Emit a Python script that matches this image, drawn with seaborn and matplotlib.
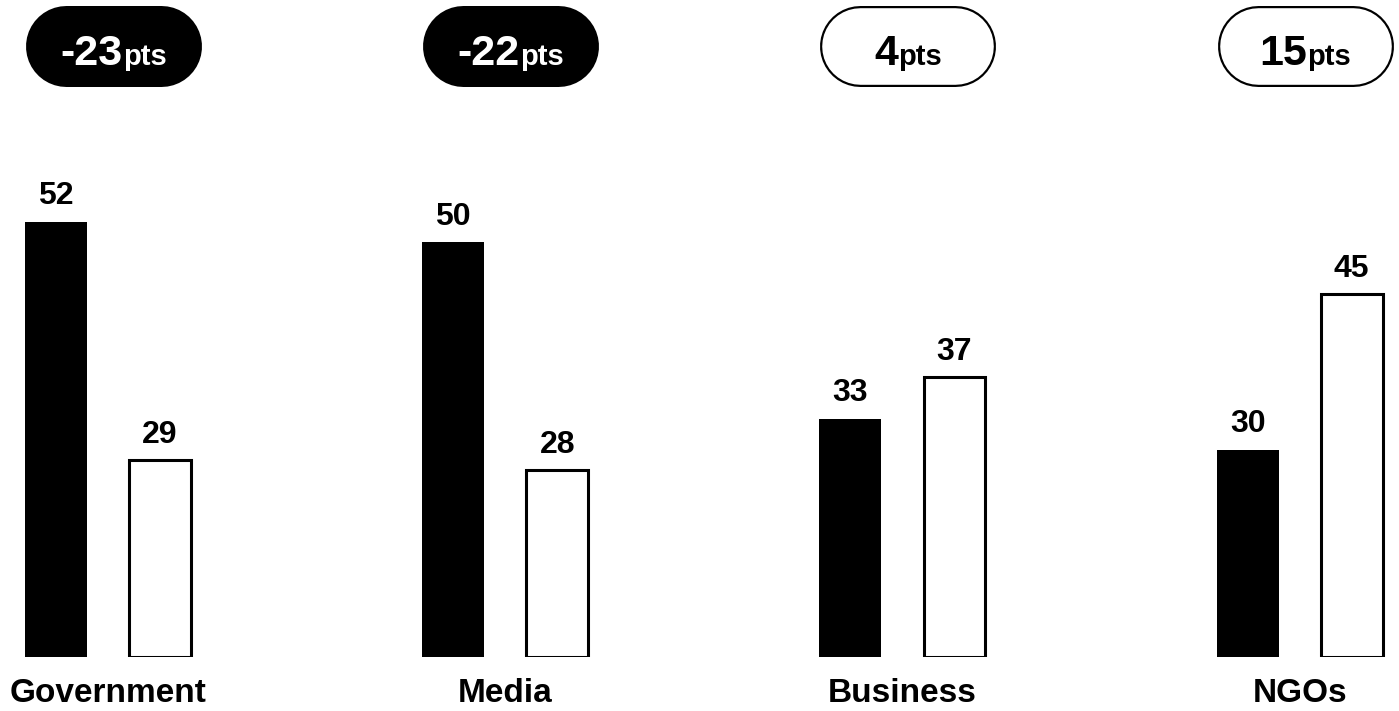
import matplotlib
matplotlib.use("Agg")
import matplotlib.pyplot as plt
import pandas as pd
import seaborn as sns

# Trust scores by institution for two periods
categories = ["Government", "Media", "Business", "NGOs"]
previous = [52, 50, 33, 30]
current = [29, 28, 37, 45]
periods = ["Previous", "Current"]

sns.set_theme(style="white")
plt.rcParams["font.family"] = ["Liberation Sans", "DejaVu Sans"]

df = pd.DataFrame({
    "institution": categories * 2,
    "score": previous + current,
    "period": [periods[0]] * len(categories) + [periods[1]] * len(categories),
})

W, H, DPI = 1399, 711, 100
PT = 72 / DPI  # points per pixel
fig = plt.figure(figsize=(W / DPI, H / DPI), dpi=DPI)
fig.patch.set_facecolor("white")

base = 10
ax = fig.add_axes([0, 54 / H, 1, 1 - 54 / H])
sns.barplot(
    data=df, x="institution", y="score", hue="period",
    order=categories, hue_order=periods,
    palette=["black", "white"], width=0.524, gap=0.405,
    edgecolor="black", linewidth=0, legend=False, ax=ax,
)
# Previous period: solid bars; current period: outlined bars
for cont, lw in zip(ax.containers, [0, 2.2]):
    for p in cont.patches:
        top = p.get_y() + p.get_height()
        p.set_y(base)
        p.set_height(top - base)
        p.set_linewidth(lw)
        p.set_edgecolor("black")
        p.set_joinstyle("miter")
    ax.bar_label(cont, padding=7.5, fontsize=23, fontweight="bold", color="black")

ax.set_xlim(-0.272, 3.25)
ax.set_ylim(base, 73.4)
ax.set_xlabel("")
ax.set_ylabel("")
ax.set_yticks([])
ax.tick_params(axis="x", length=0, pad=15, labelsize=24)
for lbl in ax.get_xticklabels():
    lbl.set_fontweight("bold")
    lbl.set_color("black")
sns.despine(ax=ax, left=True, bottom=True)
ax.set_facecolor("none")

# Change badges above each institution, drawn in a pixel-space overlay
ov = fig.add_axes([0, 0, 1, 1])
ov.set_xlim(0, W)
ov.set_ylim(H, 0)
ov.axis("off")
ov.patch.set_alpha(0)

fig.canvas.draw()
renderer = fig.canvas.get_renderer()

pill_w, pill_h, pill_cy = 176, 81, 45.5
outline = 2.2
baseline_y = 65
for i, (a, b) in enumerate(zip(previous, current)):
    diff = b - a
    cx = ax.transData.transform((i, 0))[0] + 5.5
    dark = diff < 0
    txt = "white" if dark else "black"
    half = pill_w / 2 - pill_h / 2
    # capsule: a thick line with round caps, hollowed out for positive changes
    ov.plot([cx - half, cx + half], [pill_cy, pill_cy], color="black",
            lw=pill_h * PT, solid_capstyle="round")
    if not dark:
        ov.plot([cx - half, cx + half], [pill_cy, pill_cy], color="white",
                lw=(pill_h - 2 * outline) * PT, solid_capstyle="round")
    t1 = ov.text(cx, baseline_y, f"{diff}", ha="right", va="baseline",
                 fontsize=31, fontweight="bold", color=txt)
    t2 = ov.text(cx, baseline_y, "pts", ha="left", va="baseline",
                 fontsize=21, fontweight="bold", color=txt)
    w1 = t1.get_window_extent(renderer).width
    w2 = t2.get_window_extent(renderer).width
    split = cx - (w1 + w2) / 2 + w1
    t1.set_x(split)
    t2.set_x(split)

fig.savefig("out.png", dpi=DPI, facecolor="white")
